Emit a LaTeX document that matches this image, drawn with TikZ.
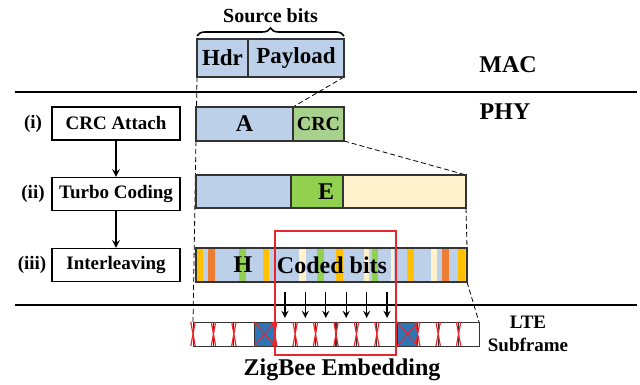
\documentclass[tikz,border=0pt]{standalone}
\usepackage{fontspec}
\setmainfont{Liberation Serif}
\usetikzlibrary{positioning}
\usetikzlibrary{arrows.meta}
\usetikzlibrary{backgrounds}
\usetikzlibrary{decorations.pathreplacing}

\definecolor{segblue}{HTML}{BDD0E9}
\definecolor{crcgreen}{HTML}{A9D18E}
\definecolor{egreen}{HTML}{92D050}
\definecolor{parity}{HTML}{FFF2CC}
\definecolor{gold}{HTML}{FFC000}
\definecolor{orng}{HTML}{ED7D31}
\definecolor{rbblue}{HTML}{2E75B6}
\definecolor{zbred}{HTML}{E8262B}

\begin{document}
\begin{tikzpicture}[x=0.5pt,y=-0.5pt,
    field/.style={draw=black!80, line width=0.7pt, inner sep=0pt, outer sep=0pt, minimum height=17pt, font=\bfseries\fontsize{12}{14}\selectfont},
    stagebox/.style={draw, line width=0.7pt, minimum width=64pt, minimum height=16.5pt, font=\bfseries\fontsize{9.5}{11}\selectfont},
    tag/.style={font=\bfseries\fontsize{9.5}{11}\selectfont},
    big/.style={font=\bfseries\fontsize{12}{14}\selectfont},
    cell/.style={draw=black!80, line width=0.5pt, inner sep=0pt, outer sep=0pt, minimum width=10.2pt, minimum height=12pt},
    guide/.style={line width=0.4pt, dash pattern=on 2.5pt off 1.5pt}]

  \useasboundingbox (0,0) rectangle (640,384);

  % layer separators
  \draw[line width=0.8pt] (15,92) -- (637,92);
  \draw[line width=0.8pt] (15,305) -- (637,305);
  \node[big] (mac) at (508,65) {MAC};
  \node[big] (phy) at (505,112) {PHY};

  % MAC frame
  \node[field, fill=segblue, minimum width=25.5pt, minimum height=19pt, font=\bfseries\fontsize{11.5}{13}\selectfont] (hdr) at (222.5,58) {Hdr};
  \node[field, fill=segblue, minimum width=48pt, minimum height=19pt, font=\bfseries\fontsize{11.5}{13}\selectfont, right=0pt of hdr] (payload) {Payload};
  \draw[decorate, decoration={brace, amplitude=4pt}, line width=0.8pt]
    ([yshift=1.5pt]hdr.north west) -- node[tag, above=3pt, font=\bfseries\fontsize{10}{12}\selectfont] (src) {Source bits} ([yshift=1.5pt]payload.north east);

  % processing stages
  \node[stagebox] (crcatt) at (116,123.5) {CRC Attach};
  \node[stagebox] (turbo) at (116,194) {Turbo Coding};
  \node[stagebox] (ilvst) at (116,265) {Interleaving};
  \node[tag] (t1) at (33,123.5) {(i)};
  \node[tag] (t2) at (33,194) {(ii)};
  \node[tag] (t3) at (32,265) {(iii)};
  \draw[-stealth, line width=0.7pt] (crcatt) -- (turbo);
  \draw[-stealth, line width=0.7pt] (turbo) -- (ilvst);

  % transport block + CRC
  \node[field, fill=segblue, minimum width=48.5pt] (blkA) at (244.5,124) {A};
  \node[field, fill=crcgreen, minimum width=25.5pt, font=\bfseries\fontsize{10}{12}\selectfont, right=0pt of blkA] (crc) {CRC};

  % coded block
  \node[field, fill=segblue, minimum width=47.5pt, minimum height=16.5pt] (sysb) at (243.5,191.5) {};
  \node[field, fill=egreen, minimum width=26pt, minimum height=16.5pt, right=0pt of sysb] (egrn) {};
  \node[field, fill=parity, minimum width=61.5pt, minimum height=16.5pt, right=0pt of egrn] (par) {};
  \node[big] (elbl) at ([xshift=4.5pt]egrn.center) {E};

  % interleaved block
  \node[field, fill=segblue, minimum width=135.5pt] (ilv) at (331.5,265) {};
  \foreach \a/\b/\c in {197/203/gold, 208/215/orng, 239/246/egreen, 263/269/gold,
      299/306/parity, 317/324/egreen, 336/343/gold, 364/369/parity, 372/378/egreen,
      391/394/parity, 407/414/gold, 431/437/parity, 442/449/orng, 458/465/gold}
    \fill[\c] (\a,249) rectangle (\b,281);
  \draw[draw=black!80, line width=0.7pt] (ilv.north west) rectangle (ilv.south east);
  \node[big] (hlbl) at (243,265) {H};
  \node[big] (coded) at (332,265) {Coded bits};

  % LTE subframe
  \foreach \i in {0,...,13}{
    \pgfmathsetmacro\cx{203.2+20.43*\i}
    \node[cell] (c\i) at (\cx,334) {};
  }
  \foreach \i in {3,10}{
    \node[cell, fill=rbblue] at (c\i) {};
    \draw[zbred, line width=0.5pt] (c\i.north west) -- (c\i.south east) (c\i.north east) -- (c\i.south west);
  }
  \foreach \i in {0,1,2,4,5,6,7,8,9,11,12,13}
    \draw[zbred, line width=0.6pt] ([xshift=-1.1pt]c\i.north west) -- ([xshift=1.1pt]c\i.south west)
      ([xshift=1.1pt]c\i.north west) -- ([xshift=-1.1pt]c\i.south west);
  \node[tag] (lte) at (528,322) {LTE};
  \node[tag] (subf) at (528,345) {Subframe};

  % ZigBee embedding
  \foreach \i in {4,...,9}
    \draw[stealth-, line width=0.6pt] ([yshift=2pt]c\i.north) -- ++(0,-26);
  \draw[zbred, line width=0.8pt] (275,231) rectangle (396,355);
  \node[font=\bfseries\fontsize{12}{14}\selectfont] (zb) at (342,370) {ZigBee Embedding};

  % guide lines
  \begin{scope}[on background layer]
    \draw[guide] (hdr.south west) -- (c0.north west);
    \draw[guide] (payload.south east) -- (crc.north west);
    \draw[guide] (crc.south east) -- (par.north east);
    \draw[guide] (par.south east) -- (ilv.north east);
    \draw[guide] (ilv.south east) -- (c13.north east);
  \end{scope}
\end{tikzpicture}
\end{document}
